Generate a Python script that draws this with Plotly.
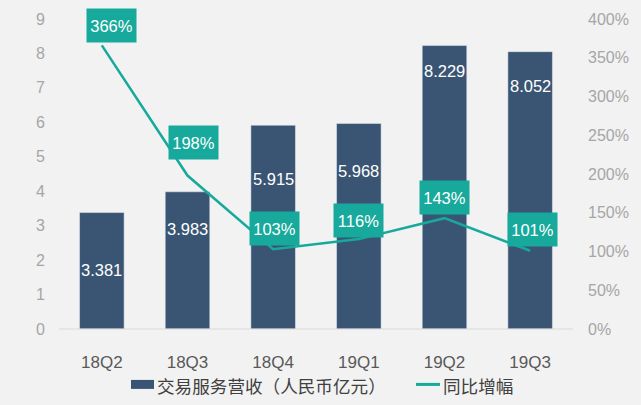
import plotly.graph_objects as go

# ---- data ----
categories = ["18Q2", "18Q3", "18Q4", "19Q1", "19Q2", "19Q3"]
revenue = [3.381, 3.983, 5.915, 5.968, 8.229, 8.052]          # 交易服务营收（人民币亿元）
yoy_growth = [3.66, 1.98, 1.03, 1.16, 1.43, 1.01]              # 同比增幅
left_ticks = [0, 1, 2, 3, 4, 5, 6, 7, 8, 9]
right_ticks = [0, 0.5, 1, 1.5, 2, 2.5, 3, 3.5, 4]
bar_name = "交易服务营收（人民币亿元）"
line_name = "同比增幅"

# ---- styling ----
BG = "#F2F2F2"
BAR = "#3A5573"
TEAL = "#17A99B"
AXIS_GRAY = "#A6A6A6"
FONT = "Arial, 'Liberation Sans', sans-serif"
CJK = "'Noto Sans CJK SC', sans-serif"
label_frac = [0.51, 0.73, 0.735, 0.77, 0.91, 0.875]   # where value label sits within each bar
box_shift = [(10, 20), (6, 33), (1.5, 21), (0, 19), (0, 21), (2, 21)]

fig = go.Figure()
fig.add_trace(go.Bar(x=categories, y=revenue, name=bar_name, marker_color=BAR,
                     width=0.52, showlegend=False, hoverinfo="skip"))
fig.add_trace(go.Scatter(x=categories, y=yoy_growth, name=line_name, mode="lines",
                         line=dict(color=TEAL, width=2.5), yaxis="y2",
                         showlegend=False, hoverinfo="skip"))

anns = []
for c, v, f in zip(categories, revenue, label_frac):
    anns.append(dict(x=c, y=v * f, xref="x", yref="y", text=f"{v:.3f}", showarrow=False,
                     font=dict(family=FONT, size=16.5, color="white")))
for c, g, (dx, dy) in zip(categories, yoy_growth, box_shift):
    anns.append(dict(x=c, y=g, xref="x", yref="y2", text=f"{round(g*100)}%", showarrow=False,
                     xshift=dx, yshift=dy, bgcolor=TEAL, width=47, height=31,
                     font=dict(family=FONT, size=16.5, color="white")))

# custom legend (pixel -> paper conversion for plot area 59..573 x, 18.5..329 y)
L, R, T, B = 59, 573, 18.5, 329
def px(x):
    return (x - L) / (R - L)
def py(y):
    return (B - y) / (B - T)

shapes = [
    dict(type="line", xref="paper", yref="paper", x0=0, x1=1, y0=0, y1=0,
         line=dict(color="#D9D9D9", width=1)),
    dict(type="rect", xref="paper", yref="paper", x0=px(131), x1=px(154),
         y0=py(389), y1=py(380), fillcolor=BAR, line=dict(width=0)),
    dict(type="line", xref="paper", yref="paper", x0=px(416), x1=px(440),
         y0=py(384.5), y1=py(384.5), line=dict(color=TEAL, width=3)),
]
anns.append(dict(x=px(155), y=py(385.5), xref="paper", yref="paper", xanchor="left",
                 yanchor="middle", text=bar_name, showarrow=False,
                 font=dict(family=CJK, size=17.6, color="#404040")))
anns.append(dict(x=px(441), y=py(385.5), xref="paper", yref="paper", xanchor="left",
                 yanchor="middle", text=line_name, showarrow=False,
                 font=dict(family=CJK, size=17.6, color="#404040")))

fig.update_layout(
    width=641, height=405,
    margin=dict(l=L, r=641 - R, t=T, b=405 - B),
    paper_bgcolor=BG, plot_bgcolor=BG,
    bargap=0.48,
    hovermode=False,
    xaxis=dict(showgrid=False, showline=False, zeroline=False, ticks="",
               tickfont=dict(family=FONT, size=17, color="#595959"),
               ticklabelstandoff=21),
    yaxis=dict(range=[0, 9], tickvals=left_ticks, showgrid=False, zeroline=False,
               showline=False, ticks="",
               tickfont=dict(family=FONT, size=16, color=AXIS_GRAY),
               ticklabelstandoff=13),
    yaxis2=dict(range=[0, 4], tickvals=right_ticks, tickformat=".0%", overlaying="y",
                side="right", showgrid=False, zeroline=False, showline=False, ticks="",
                tickfont=dict(family=FONT, size=16, color=AXIS_GRAY),
                ticklabelstandoff=14),
    shapes=shapes,
    annotations=anns,
    showlegend=False,
)

fig.write_html("out.html", config={"displayModeBar": False, "staticPlot": True},
               post_script="document.body.style.margin='0px';document.body.style.overflow='hidden';")
